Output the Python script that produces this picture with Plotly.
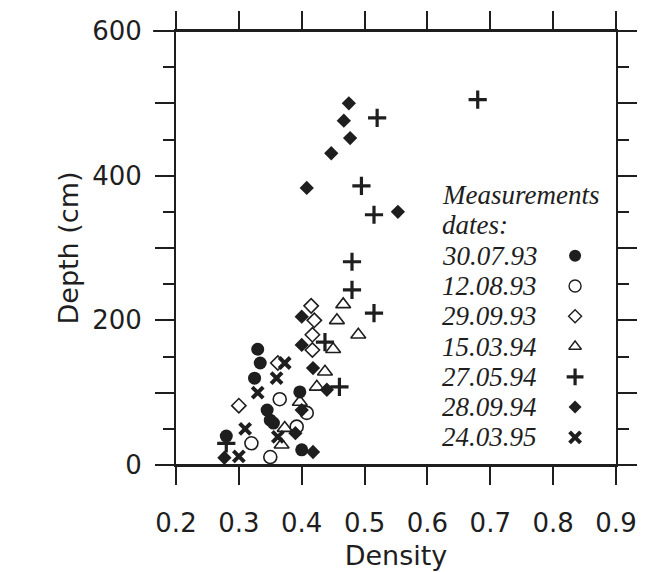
import plotly.graph_objects as go

# ---- data (density, depth in cm) ----
dates = ["30.07.93", "12.08.93", "29.09.93", "15.03.94", "27.05.94", "28.09.94", "24.03.95"]

dens_300793 = [0.28, 0.33, 0.334, 0.325, 0.345, 0.35, 0.355, 0.397, 0.40]
depth_300793 = [40, 160, 141, 120, 76, 62, 58, 101, 21]

dens_120893 = [0.32, 0.35, 0.365, 0.392, 0.408]
depth_120893 = [30, 11, 91, 53, 72]

dens_290993 = [0.415, 0.42, 0.417, 0.417, 0.362, 0.30]
depth_290993 = [220, 200, 180, 159, 141, 82]

dens_150394 = [0.466, 0.456, 0.49, 0.45, 0.437, 0.424, 0.397, 0.373, 0.368]
depth_150394 = [222, 200, 180, 160, 129, 108, 87, 51, 28]

dens_270594 = [0.68, 0.52, 0.495, 0.515, 0.48, 0.48, 0.515, 0.437, 0.46, 0.28]
depth_270594 = [505, 480, 386, 346, 281, 242, 210, 170, 108, 30]

dens_280994 = [0.475, 0.467, 0.477, 0.447, 0.408, 0.553, 0.40, 0.40, 0.418, 0.44, 0.40, 0.39, 0.418, 0.277]
depth_280994 = [500, 476, 452, 431, 383, 350, 205, 166, 134, 104, 76, 44, 18, 10]

dens_240395 = [0.30, 0.33, 0.36, 0.373, 0.362, 0.31]
depth_240395 = [12, 100, 120, 141, 39, 50]

x_ticks = [0.2, 0.3, 0.4, 0.5, 0.6, 0.7, 0.8, 0.9]
y_tickvals = [0, 100, 200, 300, 400, 500, 600]
y_ticktext = ["0", "", "200", "", "400", "", "600"]

INK = "#1e1e1e"

series = [
    (dens_300793, depth_300793, dict(symbol="circle", size=13, color=INK)),
    (dens_120893, depth_120893, dict(symbol="circle-open", size=13, color=INK, line=dict(width=1.6, color=INK))),
    (dens_290993, depth_290993, dict(symbol="diamond-open", size=11, color=INK, line=dict(width=1.6, color=INK))),
    (dens_150394, depth_150394, dict(symbol="triangle-up-open", size=13, color=INK, line=dict(width=1.6, color=INK))),
    (dens_270594, depth_270594, dict(symbol="cross-thin", size=13, color=INK, line=dict(width=3.2, color=INK))),
    (dens_280994, depth_280994, dict(symbol="diamond", size=11, color=INK)),
    (dens_240395, depth_240395, dict(symbol="x-thin", size=11, color=INK, line=dict(width=4, color=INK))),
]

legend_markers = [
    dict(symbol="circle", size=12, color=INK),
    dict(symbol="circle-open", size=12, color=INK, line=dict(width=1.4, color=INK)),
    dict(symbol="diamond-open", size=10, color=INK, line=dict(width=1.4, color=INK)),
    dict(symbol="triangle-up-open", size=11, color=INK, line=dict(width=1.4, color=INK)),
    dict(symbol="cross-thin", size=12, color=INK, line=dict(width=3.2, color=INK)),
    dict(symbol="diamond", size=10, color=INK),
    dict(symbol="x-thin", size=11, color=INK, line=dict(width=4, color=INK)),
]

fig = go.Figure()
for xs, ys, mk in series:
    fig.add_trace(go.Scatter(x=xs, y=ys, mode="markers", marker=mk,
                             showlegend=False, hoverinfo="skip"))

# legend (on an overlay axis spanning the plot area, 0..1)
row0 = 0.622
step = 0.0698
legend_rows = [row0 - step * (i + 2) for i in range(len(dates))]
for i, (d, mk) in enumerate(zip(dates, legend_markers)):
    fig.add_trace(go.Scatter(x=[0.907], y=[legend_rows[i]], mode="markers", marker=mk,
                             xaxis="x2", yaxis="y2", showlegend=False, hoverinfo="skip"))

serif = dict(family="Liberation Serif", size=27, color=INK)
ann = [dict(text="<i>Measurements</i>", x=0.600, y=row0),
       dict(text="<i>dates:</i>", x=0.600, y=row0 - step)]
for i, d in enumerate(dates):
    ann.append(dict(text=f"<i>{d}</i>", x=0.600, y=legend_rows[i]))
for a in ann:
    a.update(xref="paper", yref="paper", xanchor="left", yanchor="middle",
             showarrow=False, font=serif)

tick_font = dict(family="DejaVu Sans", size=26, color=INK)
title_font = dict(family="DejaVu Sans", size=27, color=INK)

fig.update_layout(
    width=640, height=564,
    margin=dict(l=168, r=32, t=23, b=107),
    paper_bgcolor="white", plot_bgcolor="white",
    annotations=ann,
    xaxis=dict(range=[0.2, 0.9], tickvals=x_ticks, ticktext=[f"{v:.1f}" for v in x_ticks],
               ticks="outside", ticklen=18, tickwidth=2, tickcolor=INK,
               ticklabelstandoff=16, automargin=False,
               showline=True, linewidth=2, linecolor=INK, mirror="ticks",
               showgrid=False, zeroline=False, tickfont=tick_font,
               title=dict(text="Density", font=title_font, standoff=9)),
    yaxis=dict(range=[0, 600], tickvals=y_tickvals, ticktext=y_ticktext,
               ticks="outside", ticklen=19, tickwidth=2, tickcolor=INK,
               ticklabelstandoff=8, automargin=False,
               minor=dict(dtick=50, ticks="outside", ticklen=11, tickwidth=2, tickcolor=INK),
               showline=True, linewidth=2, linecolor=INK, mirror="ticks",
               showgrid=False, zeroline=False, tickfont=tick_font,
               title=dict(text="Depth (cm)", font=title_font, standoff=6)),
    xaxis2=dict(range=[0, 1], overlaying="x", visible=False),
    yaxis2=dict(range=[0, 1], overlaying="y", visible=False),
    shapes=[
        dict(type="line", xref="paper", yref="paper", x0=-0.052, x1=1.036, y0=1, y1=1,
             line=dict(color=INK, width=2)),
        dict(type="line", xref="paper", yref="paper", x0=-0.045, x1=1.03, y0=0, y1=0,
             line=dict(color=INK, width=2)),
    ],
)

fig.write_html("out.html")
